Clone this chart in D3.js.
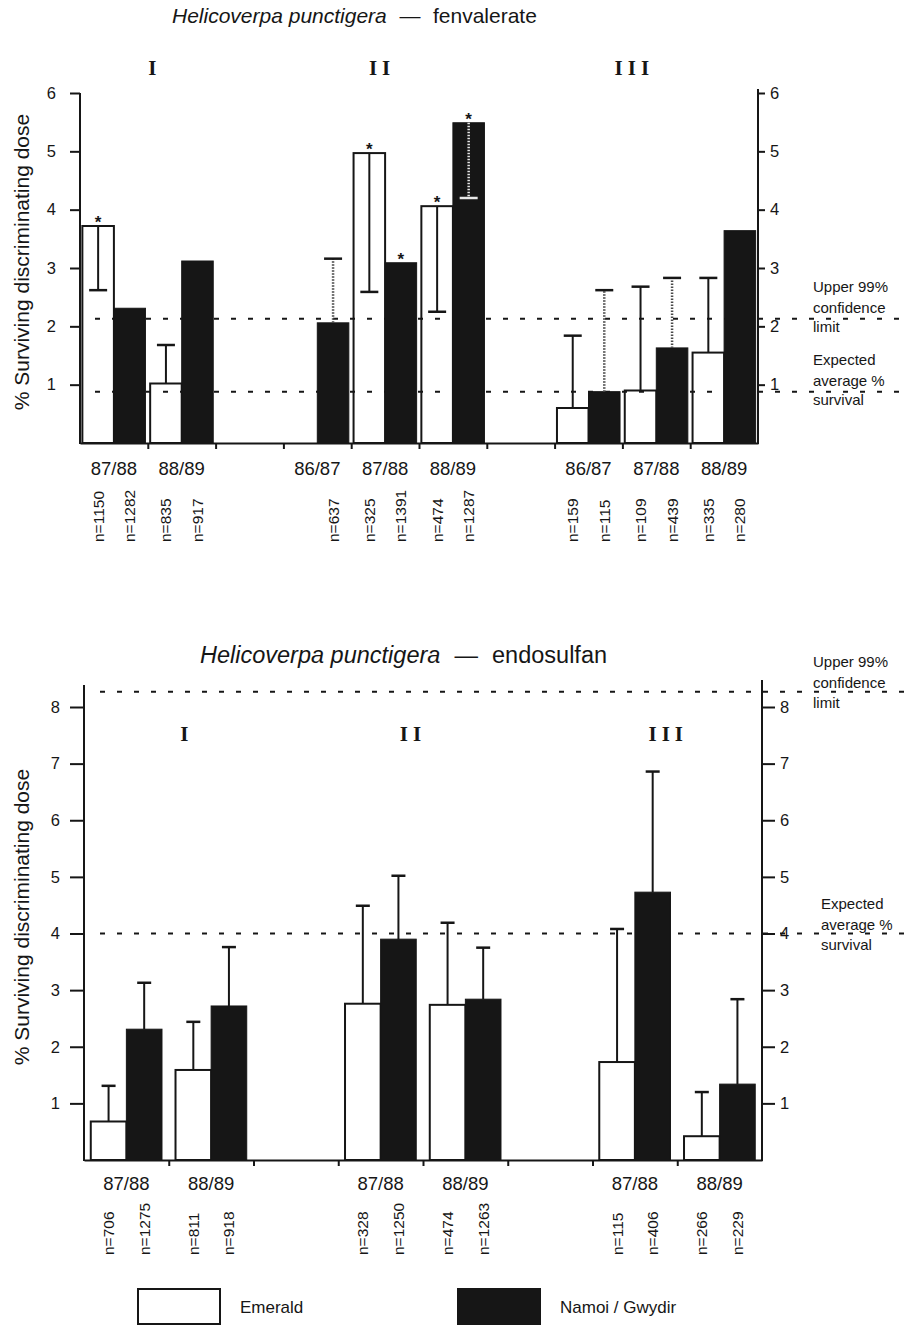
<!DOCTYPE html>
<html>
<head>
<meta charset="utf-8">
<script src="https://cdn.jsdelivr.net/npm/d3@7"></script>
<style>
  body { margin: 0; background: #fff; }
  svg { display: block; font-family: "Liberation Sans", Arial, Helvetica, sans-serif; }
</style>
</head>
<body>
<svg id="chart" width="907" height="1326"></svg>
<script>
// ---- fenvalerate panel (top) ----
const fenSlots = ['I 87/88', 'I 88/89', 'gap a', 'II 86/87', 'II 87/88', 'II 88/89', 'gap b', 'III 86/87', 'III 87/88', 'III 88/89'];
const fenSeasons = ['87/88', '88/89', '', '86/87', '87/88', '88/89', '', '86/87', '87/88', '88/89'];
const fenEmerald = [3.72, 1.02, null, null, 4.97, 4.06, null, 0.60, 0.90, 1.55];
const fenEmeraldCI = [2.62, 1.68, null, null, 2.59, 2.25, null, 1.84, 2.68, 2.83];
const fenNamoi = [2.31, 3.12, null, 2.06, 3.09, 5.49, null, 0.88, 1.63, 3.64];
const fenNamoiCI = [null, null, null, 3.16, null, 4.20, null, 2.62, 2.83, null];
const fenEmeraldSig = [1, 0, 0, 0, 1, 1, 0, 0, 0, 0];
const fenNamoiSig = [0, 0, 0, 0, 1, 1, 0, 0, 0, 0];
const fenEmeraldN = ['n=1150', 'n=835', '', '', 'n=325', 'n=474', '', 'n=159', 'n=109', 'n=335'];
const fenNamoiN = ['n=1282', 'n=917', '', 'n=637', 'n=1391', 'n=1287', '', 'n=115', 'n=439', 'n=280'];
const fenGroups = [['I', 0, 1], ['II', 3, 5], ['III', 7, 9]];
const fenRefLines = [2.13, 0.88];
const fenTicks = [1, 2, 3, 4, 5, 6];

// ---- endosulfan panel (bottom) ----
const endoSlots = ['I 87/88', 'I 88/89', 'gap a', 'II 87/88', 'II 88/89', 'gap b', 'III 87/88', 'III 88/89'];
const endoSeasons = ['87/88', '88/89', '', '87/88', '88/89', '', '87/88', '88/89'];
const endoEmerald = [0.68, 1.59, null, 2.76, 2.74, null, 1.73, 0.42];
const endoEmeraldCI = [1.31, 2.44, null, 4.49, 4.19, null, 4.08, 1.20];
const endoNamoi = [2.31, 2.72, null, 3.90, 2.84, null, 4.73, 1.34];
const endoNamoiCI = [3.13, 3.76, null, 5.02, 3.75, null, 6.86, 2.84];
const endoEmeraldSig = [0, 0, 0, 0, 0, 0, 0, 0];
const endoNamoiSig = [0, 0, 0, 0, 0, 0, 0, 0];
const endoEmeraldN = ['n=706', 'n=811', '', 'n=328', 'n=474', '', 'n=115', 'n=266'];
const endoNamoiN = ['n=1275', 'n=918', '', 'n=1250', 'n=1263', '', 'n=406', 'n=229'];
const endoGroups = [['I', 0, 1], ['II', 3, 4], ['III', 6, 7]];
const endoRefLines = [8.27, 4.0];
const endoTicks = [1, 2, 3, 4, 5, 6, 7, 8];

const refLabels = [['Upper 99%', 'confidence', 'limit'], ['Expected', 'average %', 'survival']];
const yTitle = '% Surviving discriminating dose';
const legendLabels = ['Emerald', 'Namoi / Gwydir'];

const INK = '#161616';
const svg = d3.select('#chart');

function drawPanel(p) {
  const g = svg.append('g');
  const x = d3.scaleBand().domain(p.slots).range([p.left, p.right]).paddingInner(0).paddingOuter(0);
  const xs = d3.scaleBand().domain(['Emerald', 'Namoi']).range([0, x.bandwidth()]).paddingInner(0).paddingOuter(p.pairPad);
  const y = d3.scaleLinear().domain([0, p.max]).range([p.base, p.top]);

  const marks = [];
  p.slots.forEach((s, i) => {
    if (p.emerald[i] != null) marks.push({ slot: s, series: 'Emerald', v: p.emerald[i], ci: p.emeraldCI[i], sig: p.emeraldSig[i], n: p.emeraldN[i] });
    if (p.namoi[i] != null) marks.push({ slot: s, series: 'Namoi', v: p.namoi[i], ci: p.namoiCI[i], sig: p.namoiSig[i], n: p.namoiN[i] });
  });
  const cx = d => x(d.slot) + xs(d.series) + xs.bandwidth() / 2;

  // white bars
  g.selectAll('rect.em').data(marks.filter(d => d.series === 'Emerald')).join('rect')
    .attr('class', 'em')
    .attr('x', d => x(d.slot) + xs(d.series))
    .attr('y', d => y(d.v))
    .attr('width', xs.bandwidth())
    .attr('height', d => p.base - y(d.v))
    .attr('fill', '#fff').attr('stroke', INK).attr('stroke-width', 2);

  // reference lines
  p.refLines.forEach((v, k) => {
    g.append('line')
      .attr('x1', p.refStart).attr('x2', 907)
      .attr('y1', y(v)).attr('y2', y(v))
      .attr('stroke', INK).attr('stroke-width', 2).attr('stroke-dasharray', '5,12');
    refLabels[k].forEach((t, j) => {
      g.append('text')
        .attr('x', p.refLabelX[k])
        .attr('y', y(v) + p.refLabelDy[j])
        .attr('font-size', 15).attr('fill', INK)
        .text(t);
    });
  });

  // black bars
  g.selectAll('rect.na').data(marks.filter(d => d.series === 'Namoi')).join('rect')
    .attr('class', 'na')
    .attr('x', d => x(d.slot) + xs(d.series))
    .attr('y', d => y(d.v))
    .attr('width', xs.bandwidth())
    .attr('height', d => p.base - y(d.v))
    .attr('fill', INK).attr('stroke', INK).attr('stroke-width', 1);

  // error bars
  marks.filter(d => d.ci != null).forEach(d => {
    const inside = d.series === 'Namoi' && d.ci < d.v;
    const hatched = d.series === 'Namoi' && p.hatchNamoi && !inside;
    const col = inside ? '#e8e8e8' : (hatched ? '#4a4a4a' : INK);
    g.append('line')
      .attr('x1', cx(d)).attr('x2', cx(d))
      .attr('y1', y(d.v)).attr('y2', y(d.ci))
      .attr('stroke', col).attr('stroke-width', inside || hatched ? 2.5 : 2)
      .attr('stroke-dasharray', inside || hatched ? '1.5,1.5' : null);
    g.append('line')
      .attr('x1', cx(d) - p.capW / 2).attr('x2', cx(d) + p.capW / 2)
      .attr('y1', y(d.ci)).attr('y2', y(d.ci))
      .attr('stroke', inside ? '#e8e8e8' : INK).attr('stroke-width', 2.5);
  });

  // significance stars
  g.selectAll('text.star').data(marks.filter(d => d.sig)).join('text')
    .attr('class', 'star')
    .attr('x', cx).attr('y', d => y(d.v) + 2)
    .attr('text-anchor', 'middle').attr('font-size', 17).attr('font-weight', 'bold').attr('fill', INK)
    .text('*');

  // x axis with slot separators
  const slotPos = d3.scaleLinear().domain([0, p.slots.length]).range([p.left, p.right]);
  const xa = g.append('g').attr('transform', `translate(0,${p.base})`)
    .call(d3.axisBottom(slotPos).tickValues(d3.range(1, p.slots.length)).tickSize(6).tickSizeOuter(0).tickFormat(''));
  xa.selectAll('path, line').attr('stroke', INK).attr('stroke-width', 2);

  // left axis
  const yl = g.append('g').attr('transform', `translate(${p.left},0)`)
    .call(d3.axisLeft(y).tickValues(p.ticks).tickSize(p.tickL).tickPadding(p.padL).tickFormat(d3.format('d')));
  yl.select('.domain').remove();
  yl.append('line').attr('y1', p.axisTopL).attr('y2', p.base + 1).attr('stroke', INK).attr('stroke-width', 2);
  yl.selectAll('.tick line').attr('stroke', INK).attr('stroke-width', 2);
  yl.selectAll('text').attr('font-size', 16.5).attr('fill', INK);
  yl.attr('font-family', null).attr('font-size', null);

  // right axis
  const yr = g.append('g').attr('transform', `translate(${p.right},0)`)
    .call(d3.axisRight(y).tickValues(p.ticks).tickSize(p.tickR).tickPadding(p.padR).tickFormat(d3.format('d')));
  yr.select('.domain').remove();
  yr.append('line').attr('y1', p.axisTopR).attr('y2', p.base + 1).attr('stroke', INK).attr('stroke-width', 2);
  yr.selectAll('.tick line').attr('stroke', INK).attr('stroke-width', 2);
  yr.selectAll('text').attr('font-size', 16.5).attr('fill', INK);
  yr.attr('font-family', null).attr('font-size', null);

  // season labels
  p.slots.forEach((s, i) => {
    if (!p.seasons[i]) return;
    g.append('text')
      .attr('x', x(s) + x.bandwidth() / 2).attr('y', p.seasonY)
      .attr('text-anchor', 'middle').attr('font-size', 18.5).attr('fill', INK)
      .text(p.seasons[i]);
  });

  // n labels
  marks.filter(d => d.n).forEach(d => {
    g.append('text')
      .attr('transform', `translate(${cx(d) + 5.5},${p.nBottom}) rotate(-90)`)
      .attr('font-size', 15.5).attr('fill', INK)
      .text(d.n);
  });

  // group numerals
  p.groups.forEach(([label, a, b], k) => {
    const mid = (x(p.slots[a]) + x(p.slots[b]) + x.bandwidth()) / 2 + p.groupNudge[k];
    g.append('text')
      .attr('x', mid).attr('y', p.groupY)
      .attr('text-anchor', 'middle')
      .attr('font-family', '"Liberation Serif", "Times New Roman", serif')
      .attr('font-weight', 'bold').attr('font-size', 21).attr('letter-spacing', '5px')
      .attr('fill', INK)
      .text(label);
  });

  // y title
  g.append('text')
    .attr('transform', `translate(29,${p.yTitleCy}) rotate(-90)`)
    .attr('text-anchor', 'middle').attr('font-size', 21).attr('fill', INK)
    .text(yTitle);

  // panel title
  const tt = g.append('text').attr('x', p.titleX).attr('y', p.titleY).attr('font-size', p.titleSize).attr('fill', INK);
  tt.append('tspan').attr('font-style', 'italic').text('Helicoverpa punctigera');
  tt.append('tspan').attr('dx', p.titleSize * 0.6).text('—');
  tt.append('tspan').attr('dx', p.titleSize * 0.6).text(p.insecticide);
}

drawPanel({
  slots: fenSlots, seasons: fenSeasons,
  emerald: fenEmerald, emeraldCI: fenEmeraldCI, emeraldSig: fenEmeraldSig, emeraldN: fenEmeraldN,
  namoi: fenNamoi, namoiCI: fenNamoiCI, namoiSig: fenNamoiSig, namoiN: fenNamoiN,
  groups: fenGroups, refLines: fenRefLines, ticks: fenTicks, max: 6,
  left: 80, right: 758, base: 443, top: 93, axisTopL: 93, axisTopR: 89,
  pairPad: 0.075, capW: 18, hatchNamoi: true,
  tickL: 10, padL: 14, tickR: 7, padR: 5,
  refStart: 95, refLabelX: [813, 813], refLabelDy: [-27, -6, 13],
  seasonY: 475, nBottom: 542, groupY: 75, groupNudge: [7, -3, -22],
  yTitleCy: 262, titleX: 172, titleY: 23, titleSize: 21, insecticide: 'fenvalerate'
});

drawPanel({
  slots: endoSlots, seasons: endoSeasons,
  emerald: endoEmerald, emeraldCI: endoEmeraldCI, emeraldSig: endoEmeraldSig, emeraldN: endoEmeraldN,
  namoi: endoNamoi, namoiCI: endoNamoiCI, namoiSig: endoNamoiSig, namoiN: endoNamoiN,
  groups: endoGroups, refLines: endoRefLines, ticks: endoTicks, max: 8,
  left: 84, right: 762, base: 1160, top: 707, axisTopL: 685, axisTopR: 680,
  pairPad: 0.19, capW: 14, hatchNamoi: false,
  tickL: 14, padL: 10, tickR: 13, padR: 5,
  refStart: 100, refLabelX: [813, 821], refLabelDy: [-25, -4, 16],
  seasonY: 1190, nBottom: 1255, groupY: 741, groupNudge: [18, -10, -9],
  yTitleCy: 917, titleX: 200, titleY: 663, titleSize: 23.5, insecticide: 'endosulfan'
});

// legend
const legend = svg.append('g').attr('transform', 'translate(0,1289)');
legendLabels.forEach((label, i) => {
  const lx = [138, 458][i];
  legend.append('rect')
    .attr('x', lx).attr('y', 0).attr('width', 82).attr('height', 35)
    .attr('fill', i === 0 ? '#fff' : INK).attr('stroke', INK).attr('stroke-width', 2);
  legend.append('text')
    .attr('x', lx + 102).attr('y', 24)
    .attr('font-size', 17).attr('fill', INK)
    .text(label);
});
</script>
</body>
</html>
